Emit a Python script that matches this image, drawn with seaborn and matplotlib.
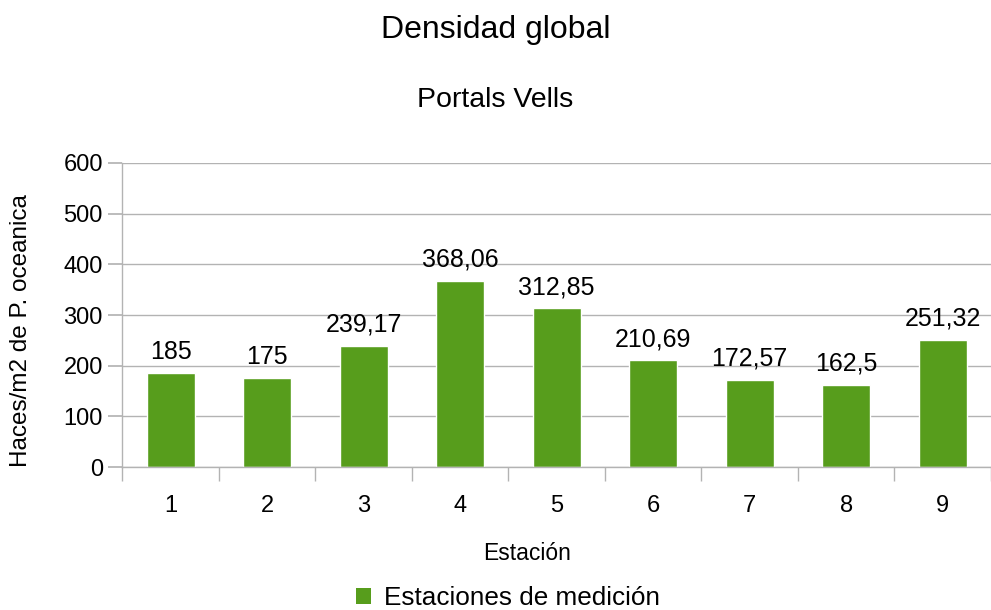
import matplotlib
matplotlib.use("Agg")
import matplotlib.pyplot as plt
from matplotlib.patches import Patch
import seaborn as sns
import pandas as pd

estaciones = ["1", "2", "3", "4", "5", "6", "7", "8", "9"]
densidad = [185, 175, 239.17, 368.06, 312.85, 210.69, 172.57, 162.5, 251.32]
etiquetas = ["185", "175", "239,17", "368,06", "312,85", "210,69", "172,57", "162,5", "251,32"]
serie = "Estaciones de medición"

df = pd.DataFrame({"Estación": estaciones, "Densidad": densidad})

sns.set_theme(style="white")
plt.rcParams["font.family"] = ["Liberation Sans", "DejaVu Sans"]
plt.rcParams["text.color"] = "black"
plt.rcParams["axes.labelcolor"] = "black"
plt.rcParams["xtick.color"] = "black"
plt.rcParams["ytick.color"] = "black"

verde = "#579d1c"
gris = "#b3b3b3"

W, H = 991, 610
fig = plt.figure(figsize=(W / 100, H / 100), dpi=100)
ax = fig.add_axes([0.1235, 0.2344, 0.8765, 0.4984])

sns.barplot(data=df, x="Estación", y="Densidad", color=verde, width=0.5,
            saturation=1, ax=ax)

# value labels above each bar
for i, (v, t) in enumerate(zip(densidad, etiquetas)):
    ax.annotate(t, (i, v), xytext=(0, 10), textcoords="offset points",
                ha="center", va="baseline", fontsize=18, color="black")

ax.set_ylim(0, 600)
ax.set_xlim(-0.5, len(estaciones) - 0.5)
ax.set_yticks(range(0, 601, 100))
ax.yaxis.grid(True, color=gris, linewidth=1)
ax.set_axisbelow(True)

for s in ["top", "right"]:
    ax.spines[s].set_visible(False)
for s in ["left", "bottom"]:
    ax.spines[s].set_color(gris)
    ax.spines[s].set_linewidth(1)

ax.tick_params(axis="y", which="major", left=True, length=10, color=gris,
               labelsize=17, pad=4, labelcolor="black")
ax.tick_params(axis="x", which="major", bottom=False, labelsize=17, pad=14,
               labelcolor="black")
ax.set_xticks([i + 0.5 for i in range(-1, len(estaciones))], minor=True)
ax.tick_params(axis="x", which="minor", bottom=True, length=10, color=gris)

ax.set_xlabel("")
ax.set_ylabel("")
fig.text(527 / W, 1 - 553 / H, "Estación", ha="center", va="center", fontsize=16.5)
fig.text(21 / W, 1 - 331 / H, "Haces/m2 de P. oceanica", ha="center", va="center",
         rotation=90, fontsize=17.5)

fig.text(0.5, 1 - 30 / H, "Densidad global", ha="center", va="center", fontsize=23)
fig.text(0.5, 1 - 100 / H, "Portals Vells", ha="center", va="center", fontsize=20.5)

ax.legend(handles=[Patch(facecolor=verde, edgecolor="none", label=serie)],
          loc="center", bbox_to_anchor=(508 / W, 1 - 598 / H),
          bbox_transform=fig.transFigure, frameon=False, fontsize=18.8,
          handlelength=0.6, handleheight=0.6, handletextpad=0.5)

fig.savefig("out.png", dpi=100)
